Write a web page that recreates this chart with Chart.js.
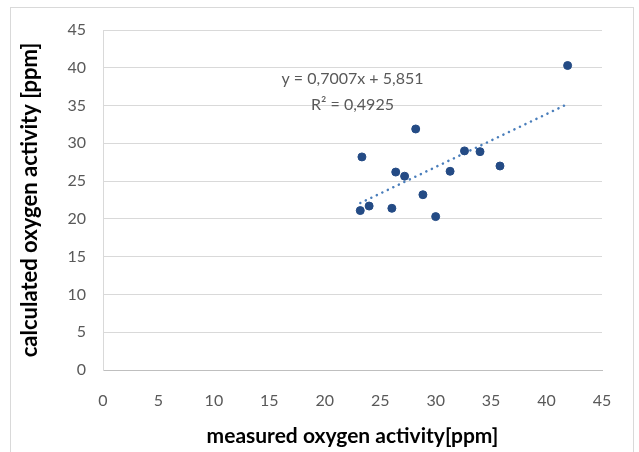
<!DOCTYPE html>
<html>
<head>
<meta charset="utf-8">
<script src="https://cdn.jsdelivr.net/npm/chart.js@4"></script>
<style>
  html, body { margin: 0; padding: 0; background: #fff; }
  #wrap { width: 639px; height: 452px; }
</style>
</head>
<body>
<div id="wrap"><canvas id="c" width="639" height="452"></canvas></div>
<script>
// valores
const measured = [23.35, 24.0, 23.2, 26.05, 26.4, 27.2, 28.2, 28.85, 30.0, 31.3, 32.6, 34.0, 35.8, 41.9];
const calculated = [28.2, 21.7, 21.1, 21.4, 26.2, 25.65, 31.9, 23.2, 20.3, 26.3, 29.0, 28.9, 27.0, 40.3];
// extremos de la línea de tendencia
const trendX = [23.2, 41.6];
const trendY = [22.1, 35.0];
const xTicks = [0, 5, 10, 15, 20, 25, 30, 35, 40, 45];
const yTicks = [0, 5, 10, 15, 20, 25, 30, 35, 40, 45];
const equationText = ['y = 0,7007x + 5,851', 'R\u00b2 = 0,4925'];

const grey = '#595959';

// fondo y borde del área del gráfico
const frame = {
    id: 'frame',
    beforeDraw(chart) {
        const ctx = chart.ctx;
        ctx.save();
        ctx.fillStyle = '#fff';
        ctx.fillRect(0, 0, chart.width, chart.height);
        ctx.strokeStyle = '#d9d9d9';
        ctx.lineWidth = 1;
        ctx.strokeRect(10.5, 7.5, 623, 470);
        ctx.restore();
    }
};

// etiqueta con la ecuación de la tendencia
const equation = {
    id: 'equation',
    afterDatasetsDraw(chart) {
        const ctx = chart.ctx;
        const xs = chart.scales.x, ys = chart.scales.y;
        ctx.save();
        ctx.font = '16px Lato';
        ctx.fillStyle = grey;
        ctx.textAlign = 'center';
        ctx.textBaseline = 'middle';
        const cx = xs.getPixelForValue(22.5);
        ctx.fillText(equationText[0], cx, ys.getPixelForValue(38.6));
        ctx.fillText(equationText[1], cx, ys.getPixelForValue(35.1));
        ctx.restore();
    }
};

const points = measured.map((v, i) => ({ x: v, y: calculated[i] }));
const trend = trendX.map((v, i) => ({ x: v, y: trendY[i] }));

new Chart(document.getElementById('c'), {
    type: 'scatter',
    data: {
        datasets: [{
            data: points,
            backgroundColor: '#244b85',
            borderColor: '#244b85',
            pointRadius: 4,
            pointHoverRadius: 4,
            order: 1
        }, {
            type: 'line',
            data: trend,
            borderColor: '#4a7ebb',
            borderWidth: 2.5,
            borderDash: [0.1, 6],
            borderCapStyle: 'round',
            pointRadius: 0,
            fill: false,
            order: 2
        }]
    },
    options: {
        responsive: false,
        animation: false,
        events: [],
        layout: { padding: { left: 0, top: 30, right: 37, bottom: 0 } },
        plugins: {
            legend: { display: false },
            tooltip: { enabled: false }
        },
        scales: {
            x: {
                type: 'linear',
                min: 0, max: 45,
                afterBuildTicks(s) { s.ticks = xTicks.map(v => ({ value: v })); },
                afterFit(s) { s.height = 82; },
                grid: { display: false, drawTicks: false },
                border: { display: true, color: '#bfbfbf', width: 1 },
                ticks: { color: grey, font: { family: 'Lato', size: 16 }, padding: 21, maxRotation: 0 },
                title: {
                    display: true,
                    text: 'measured oxygen activity[ppm]',
                    color: '#000',
                    font: { family: 'Lato', size: 21, weight: 'bold' },
                    padding: { top: 0, bottom: 3 }
                }
            },
            y: {
                type: 'linear',
                min: 0, max: 45,
                afterBuildTicks(s) { s.ticks = yTicks.map(v => ({ value: v })); },
                afterFit(s) { s.width = 103; },
                grid: { color: '#d9d9d9', drawTicks: false },
                border: { display: true, color: '#d9d9d9', width: 1 },
                ticks: { color: grey, font: { family: 'Lato', size: 16 }, padding: 17 },
                title: {
                    display: true,
                    text: 'calculated oxygen activity [ppm]',
                    color: '#000',
                    font: { family: 'Lato', size: 22, weight: 'bold' },
                    padding: { top: 17, bottom: 0 }
                }
            }
        }
    },
    plugins: [frame, equation]
});
</script>
</body>
</html>
